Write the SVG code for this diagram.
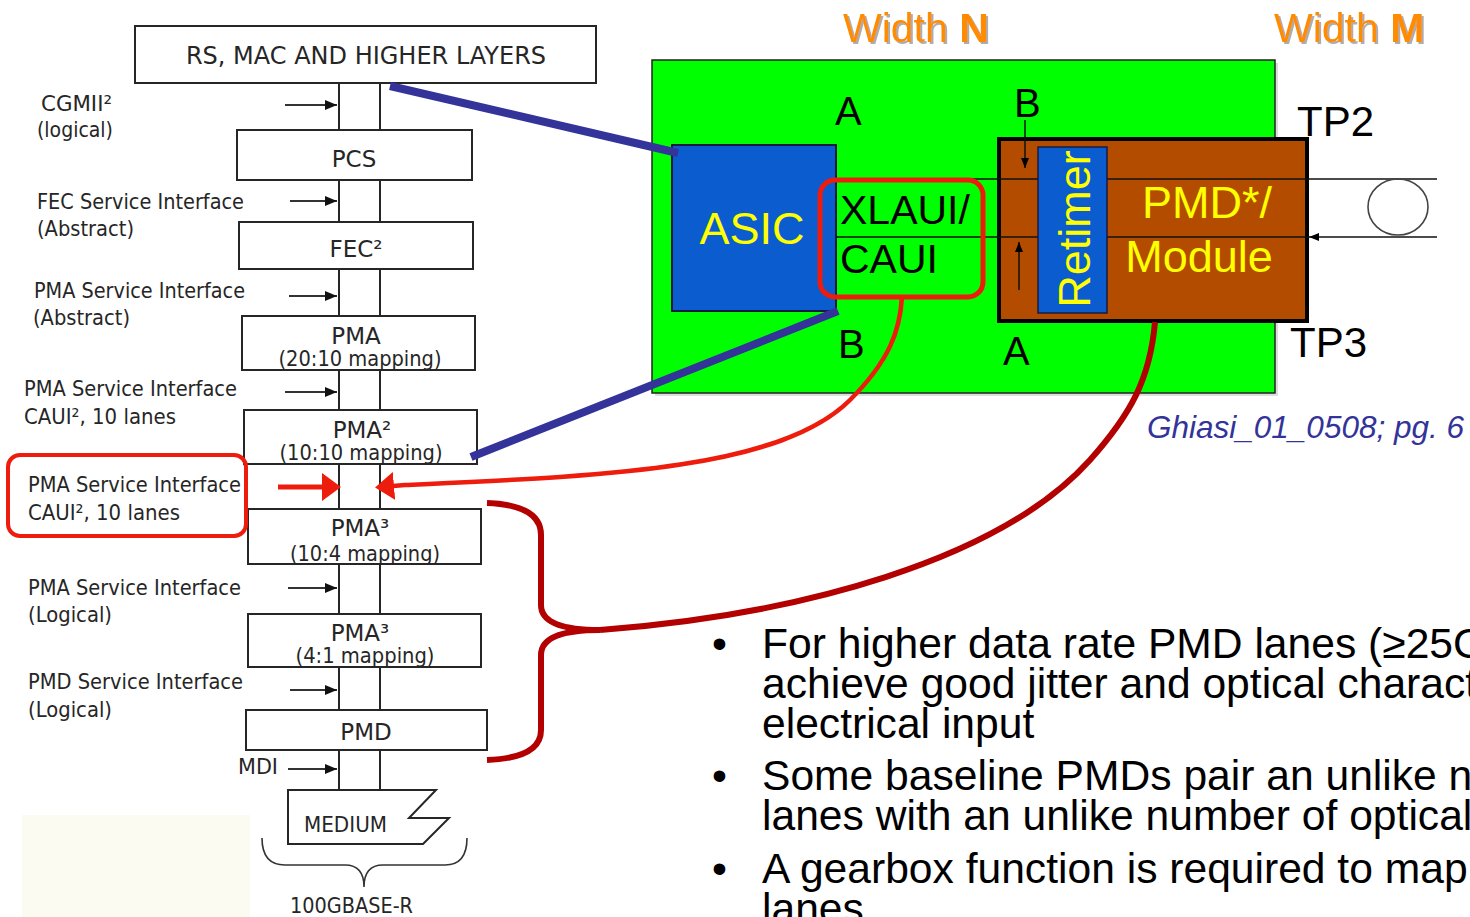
<svg xmlns="http://www.w3.org/2000/svg" width="1470" height="917" viewBox="0 0 1470 917">
<style>
.box{fill:#fff;stroke:#262626;stroke-width:2}
.lbl{font-family:"DejaVu Sans",sans-serif;font-size:22px;fill:#262626}
.bt{font-family:"DejaVu Sans",sans-serif;font-size:23px;fill:#262626;text-anchor:middle}
.bus{stroke:#262626;stroke-width:2;fill:none}
.sarr{stroke:#333;stroke-width:2;fill:none;marker-end:url(#ah)}
.ar{font-family:"Liberation Sans",Arial,sans-serif}
.blk{font-size:41px;fill:#000}
.yel{font-size:45px;fill:#ffff00;text-anchor:middle}
.bluebox{fill:#0a5ccf;stroke:#1a1a40;stroke-width:2}
.bl{stroke:#333399;stroke-width:8;fill:none}
.red{stroke:#ee1c0c;fill:none}
.dred{stroke:#b30000;stroke-width:6;fill:none}
.wid{font-size:41px;fill:#ff8c00}
.bul{font-size:42.6px;fill:#000}
.thin{stroke:#111;stroke-width:1.5;fill:none}
</style>
<defs>
<marker id="ah" markerUnits="userSpaceOnUse" markerWidth="12" markerHeight="10" viewBox="0 0 12 10" refX="12" refY="5" orient="auto"><path d="M0,0 L12,5 L0,10 z" fill="#111"/></marker>
<marker id="ahs" markerUnits="userSpaceOnUse" markerWidth="10" markerHeight="8" viewBox="0 0 10 8" refX="10" refY="4" orient="auto"><path d="M0,0 L10,4 L0,8 z" fill="#000"/></marker>
<marker id="rh" markerUnits="userSpaceOnUse" markerWidth="19" markerHeight="28" viewBox="0 0 19 28" refX="1" refY="14" orient="auto-start-reverse"><path d="M0,0 L19,14 L0,28 z" fill="#ee1c0c"/></marker>
<filter id="sh" x="-10%" y="-10%" width="130%" height="130%"><feDropShadow dx="2" dy="2" stdDeviation="0.6" flood-color="#999" flood-opacity="0.8"/></filter>
</defs>
<rect width="1470" height="917" fill="#fff"/>
<rect x="22" y="815" width="228" height="102" fill="#fbfbf2"/>

<g id="bus" class="bus">
<path d="M339 83 V790 M380 83 V790"/>
</g>

<g id="rs"><rect class="box" x="135" y="26" width="461" height="57"/><text class="bt" x="366" y="64" style="font-size:24px">RS, MAC AND HIGHER LAYERS</text></g>
<g id="pcs"><rect class="box" x="237" y="130" width="235" height="50"/><text class="bt" x="354" y="167">PCS</text></g>
<g id="fec"><rect class="box" x="239" y="222" width="234" height="47"/><text class="bt" x="356" y="257">FEC²</text></g>
<g id="pma1"><rect class="box" x="242" y="316" width="233" height="54"/><text class="bt" x="356" y="344">PMA</text><text class="bt" x="360" y="366" style="font-size:22px" textLength="163" lengthAdjust="spacingAndGlyphs">(20:10 mapping)</text></g>
<g id="pma2"><rect class="box" x="244" y="410" width="233" height="54"/><text class="bt" x="362" y="438">PMA²</text><text class="bt" x="361" y="460" style="font-size:22px" textLength="163" lengthAdjust="spacingAndGlyphs">(10:10 mapping)</text></g>
<g id="pma3"><rect class="box" x="248" y="509" width="233" height="55"/><text class="bt" x="360" y="536">PMA³</text><text class="bt" x="365" y="561" style="font-size:22px" textLength="150" lengthAdjust="spacingAndGlyphs">(10:4 mapping)</text></g>
<g id="pma4"><rect class="box" x="248" y="614" width="233" height="53"/><text class="bt" x="360" y="641">PMA³</text><text class="bt" x="365" y="663" style="font-size:22px" textLength="139" lengthAdjust="spacingAndGlyphs">(4:1 mapping)</text></g>
<g id="pmd"><rect class="box" x="246" y="710" width="241" height="40"/><text class="bt" x="366" y="740">PMD</text></g>
<g id="medium"><path class="box" d="M288 790 H436 L409 818 H449 L423 844 H288 Z"/><text class="lbl" x="304" y="832" textLength="83" lengthAdjust="spacingAndGlyphs">MEDIUM</text></g>
<g id="brace100g"><path d="M262 838 Q262 865 285 865 H345 Q364 865 364 887 Q364 865 383 865 H445 Q467 865 467 838" fill="none" stroke="#333" stroke-width="1.6"/><text class="lbl" x="290" y="913" textLength="123" lengthAdjust="spacingAndGlyphs">100GBASE-R</text></g>

<g id="labels">
<text class="lbl" x="41" y="111" textLength="71" lengthAdjust="spacingAndGlyphs">CGMII²</text>
<text class="lbl" x="37" y="137" textLength="76" lengthAdjust="spacingAndGlyphs">(logical)</text>
<text class="lbl" x="37" y="209" textLength="207" lengthAdjust="spacingAndGlyphs">FEC Service Interface</text>
<text class="lbl" x="37" y="236" textLength="97" lengthAdjust="spacingAndGlyphs">(Abstract)</text>
<text class="lbl" x="34" y="298" textLength="211" lengthAdjust="spacingAndGlyphs">PMA Service Interface</text>
<text class="lbl" x="33" y="325" textLength="97" lengthAdjust="spacingAndGlyphs">(Abstract)</text>
<text class="lbl" x="24" y="396" textLength="213" lengthAdjust="spacingAndGlyphs">PMA Service Interface</text>
<text class="lbl" x="24" y="424" textLength="152" lengthAdjust="spacingAndGlyphs">CAUI², 10 lanes</text>
<text class="lbl" x="28" y="595" textLength="213" lengthAdjust="spacingAndGlyphs">PMA Service Interface</text>
<text class="lbl" x="28" y="622" textLength="84" lengthAdjust="spacingAndGlyphs">(Logical)</text>
<text class="lbl" x="28" y="689" textLength="215" lengthAdjust="spacingAndGlyphs">PMD Service Interface</text>
<text class="lbl" x="28" y="717" textLength="84" lengthAdjust="spacingAndGlyphs">(Logical)</text>
<text class="lbl" x="238" y="774" textLength="40" lengthAdjust="spacingAndGlyphs">MDI</text>
</g>
<g id="caui-highlight">
<rect x="8" y="455" width="238" height="81" rx="12" fill="none" stroke="#ee1c0c" stroke-width="4"/>
<text class="lbl" x="28" y="492" textLength="213" lengthAdjust="spacingAndGlyphs">PMA Service Interface</text>
<text class="lbl" x="28" y="520" textLength="152" lengthAdjust="spacingAndGlyphs">CAUI², 10 lanes</text>
</g>

<g id="board">
<rect x="655" y="63" width="623" height="333" fill="#bbb" opacity="0.5"/>
<rect x="652" y="60" width="623" height="333" fill="#00ff00" stroke="#222" stroke-width="1.5"/>
</g>
<g id="asic"><rect class="bluebox" x="672" y="145" width="164" height="166"/><text class="ar yel" x="752" y="244">ASIC</text></g>
<g id="module"><rect x="999" y="139" width="308" height="182" fill="#b44c00" stroke="#000" stroke-width="4"/></g>
<g id="signal-lines">
<path class="thin" d="M836 179 H1437 M836 237 H1309"/>
<path class="thin" d="M1437 237 H1309" marker-end="url(#ahs)"/>
<path class="thin" d="M1025 120 V168" marker-end="url(#ahs)"/>
<path class="thin" d="M1019 290 V242" marker-end="url(#ahs)"/>
<ellipse cx="1398" cy="207" rx="30" ry="28" fill="none" stroke="#444" stroke-width="1.6"/>
</g>
<g id="retimer"><rect x="1038" y="147" width="69" height="166" fill="#0a5ccf" stroke="#1a1a40" stroke-width="1.5"/><text class="ar yel" transform="translate(1090 229) rotate(-90)" x="0" y="0">Retimer</text></g>
<g id="module-text"><text class="ar yel" x="1207" y="218">PMD*/</text><text class="ar yel" x="1199" y="272">Module</text></g>
<g id="xlaui">
<text class="ar blk" x="840" y="224">XLAUI/</text>
<text class="ar blk" x="840" y="273">CAUI</text>
<rect x="820" y="180" width="163" height="117" rx="15" fill="none" stroke="#ee1c0c" stroke-width="5"/>
</g>
<g id="markers-text" class="ar">
<text class="blk" x="835" y="125" style="font-size:40px">A</text>
<text class="blk" x="1014" y="117" style="font-size:40px">B</text>
<text class="blk" x="838" y="358" style="font-size:40px">B</text>
<text class="blk" x="1003" y="365" style="font-size:40px">A</text>
<text class="blk" x="1297" y="136" style="font-size:42px">TP2</text>
<text class="blk" x="1290" y="357" style="font-size:42px">TP3</text>
<text class="wid" x="843" y="42" filter="url(#sh)">Width <tspan font-weight="bold">N</tspan></text>
<text class="wid" x="1274" y="42" filter="url(#sh)">Width <tspan font-weight="bold">M</tspan></text>
<text x="1147" y="438" style="font-size:31.5px;font-style:italic;fill:#333399">Ghiasi_01_0508; pg. 6</text>
</g>

<g id="connectors">
<path class="sarr" d="M285 105 H337"/>
<path class="sarr" d="M290 201 H337"/>
<path class="sarr" d="M289 296 H337"/>
<path class="sarr" d="M285 392 H337"/>
<path class="sarr" d="M288 588 H337"/>
<path class="sarr" d="M290 690 H337"/>
<path class="sarr" d="M288 769 H337"/>
<path class="bl" d="M390 86 L678 153"/>
<path class="bl" d="M838 311 L471 457"/>
<path class="red" stroke-width="5" d="M278 487 H323" marker-end="url(#rh)"/>
<path class="red" stroke-width="4.5" d="M393 486 L405 485 C600 476 780 470 850 400 C890 360 900 330 902 297" marker-start="url(#rh)"/>
<path class="dred" d="M487 503 Q541 505 541 535 V605 Q541 630 600 630 Q541 630 541 655 V730 Q541 758 487 760"/>
<path class="dred" d="M600 630 C800 615 1000 560 1090 460 C1130 415 1150 380 1155 322"/>
</g>

<g id="bullets" class="ar bul">
<text x="712" y="658">•</text>
<text x="762" y="658">For higher data rate PMD lanes (≥25G</text>
<text x="762" y="698">achieve good jitter and optical charact</text>
<text x="762" y="738">electrical input</text>
<text x="712" y="790">•</text>
<text x="762" y="790">Some baseline PMDs pair an unlike n</text>
<text x="762" y="830">lanes with an unlike number of optical</text>
<text x="712" y="883">•</text>
<text x="762" y="883">A gearbox function is required to map</text>
<text x="762" y="923">lanes</text>
</g>
</svg>
